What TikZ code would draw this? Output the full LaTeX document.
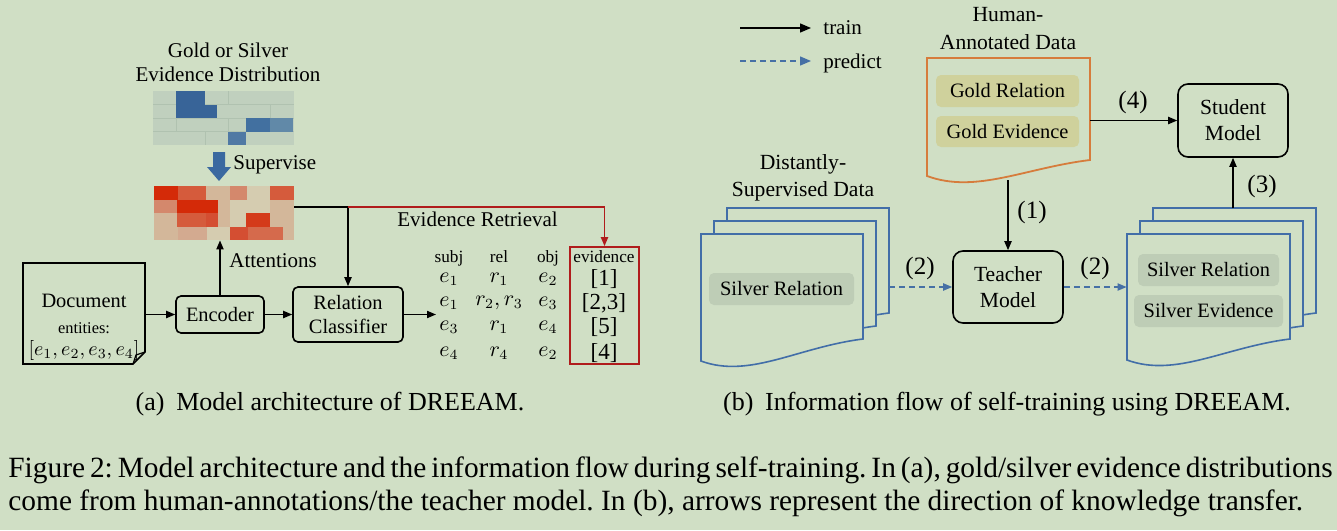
\documentclass[tikz,border=0pt]{standalone}
\usepackage{fontspec}
\setmainfont{Liberation Serif}
\usetikzlibrary{arrows.meta}
\frenchspacing

\definecolor{bggreen}{RGB}{208,223,197}
\definecolor{predblue}{RGB}{70,112,165}
\definecolor{docblue}{RGB}{66,110,168}
\definecolor{docorange}{RGB}{214,124,60}
\definecolor{retred}{RGB}{176,28,28}
\definecolor{goldfill}{RGB}{207,209,156}
\definecolor{silverfill}{RGB}{190,205,182}
\definecolor{cellbase}{RGB}{192,208,190}
\definecolor{cellline}{RGB}{176,194,176}
\definecolor{supblue}{RGB}{58,105,160}
\definecolor{hmblue}{RGB}{56,100,152}
\definecolor{hmblueb}{RGB}{66,112,160}
\definecolor{hmbluec}{RGB}{97,137,168}
\definecolor{hmblued}{RGB}{80,121,164}
\definecolor{hmred}{RGB}{212,42,8}
\definecolor{hmmed}{RGB}{213,91,60}
\definecolor{hmsalmon}{RGB}{212,136,108}
\definecolor{hmtan}{RGB}{211,183,154}
\definecolor{hmpale}{RGB}{213,204,176}
\definecolor{hmdeep}{RGB}{212,58,26}
\definecolor{hmpink}{RGB}{211,170,144}
\definecolor{hmmid}{RGB}{212,78,50}
\definecolor{hmrust}{RGB}{213,106,76}

% document with wavy bottom: style, left, top, right, bottom left, bottom right
\newcommand{\wavydoc}[6]{%
  \draw[#1] (#2,#5) -- (#2,#3) -- (#4,#3) -- (#4,#6)
    .. controls ({#2+0.6*(#4-#2)},{#6+8}) and ({#2+0.3*(#4-#2)},{#5+18}) .. (#2,#5) -- cycle;}

\begin{document}
\begin{tikzpicture}[x=0.5pt,y=-0.5pt,
    lbl/.style={font=\fontsize{10.5}{12}\selectfont, inner sep=0pt},
    small/.style={font=\fontsize{8.6}{10}\selectfont, inner sep=0pt},
    box/.style={draw, line width=0.8pt, rounded corners=2.5pt, inner sep=0pt,
      font=\fontsize{10.2}{12}\selectfont, align=center},
    mbox/.style={draw, line width=0.8pt, rounded corners=5pt, inner sep=0pt,
      font=\fontsize{10.8}{13}\selectfont, align=center},
    tag/.style={rounded corners=2.5pt, inner sep=0pt, font=\fontsize{10.2}{12}\selectfont},
    arr/.style={line width=0.7pt, -{Triangle[length=4.5pt,width=3.6pt]}},
    parr/.style={arr, draw=predblue, dash pattern=on 3pt off 2pt},
    num/.style={font=\fontsize{12.5}{14}\selectfont, inner sep=0pt},
    bluedoc/.style={draw=docblue, line width=0.8pt, fill=bggreen},
  ]
  \fill[bggreen] (0,0) rectangle (1337,530);
  \useasboundingbox (0,0) rectangle (1337,530);

  % ---------- (a) model architecture ----------
  \node[lbl, align=center] (disttitle) at (228,62) {Gold or Silver\\Evidence Distribution};

  % evidence distribution
  \fill[cellbase] (153,91) rectangle (294,145);
  \foreach \y in {104.5,118,131.5}
    \draw[cellline, line width=0.4pt] (153,\y) -- (294,\y);
  \draw[cellline, line width=0.4pt] (176,91) -- (176,131.5) (228,91) -- (228,104.5)
    (270,104.5) -- (270,118) (205,131.5) -- (205,145) (228,118) -- (228,131.5);
  \foreach \xa/\xb/\ya/\c in {176/205/91/hmblue, 176/217/104.5/hmblue,
      246/270/118/hmblueb, 270/293/118/hmbluec, 228/246/131.5/hmblued}
    \fill[\c] (\xa,\ya) rectangle (\xb,{\ya+13.5});

  \fill[supblue] (213,152) -- (225,152) -- (225,167) -- (231,167) -- (219,181)
    -- (207,167) -- (213,167) -- cycle;
  \node[lbl, anchor=west] (supv) at (233,165) {Supervise};

  % attentions
  \foreach \xa/\xb/\ya/\c in {154/178/186/hmred, 178/206/186/hmmed, 206/230/186/hmtan,
      230/247/186/hmsalmon, 247/270/186/hmpale, 270/294/186/hmmed,
      154/177/199.5/hmsalmon, 177/218/199.5/hmred, 218/230/199.5/hmtan,
      230/270/199.5/hmpale, 270/294/199.5/hmtan,
      154/177/213/hmtan, 177/206/213/hmmed, 206/218/213/hmmid, 218/230/213/hmtan,
      230/246/213/hmpale, 246/270/213/hmdeep, 270/294/213/hmtan,
      154/178/226.5/hmtan, 178/207/226.5/hmpink, 207/230/226.5/hmpale,
      230/248/226.5/hmmid, 248/283/226.5/hmrust, 283/294/226.5/hmtan}
    \fill[\c] (\xa,\ya) rectangle (\xb,{\ya+13.5});
  \node[minimum width=70pt, minimum height=27pt, inner sep=0pt] (attn) at (224,213) {};

  % document
  \node[minimum width=61pt, minimum height=50.5pt, inner sep=0pt] (doc) at (84,313.5) {};
  \draw[line width=0.8pt] (23,263) -- (145,263) -- (145,352) -- (133,364) -- (23,364) -- cycle;
  \draw[line width=0.6pt] (145,352) -- (136,355) -- (133,364);
  \node[font=\fontsize{10.2}{12}\selectfont, inner sep=0pt] (doct) at (84,301) {Document};
  \node[small, font=\fontsize{8.2}{10}\selectfont] (ent) at (84,328) {entities:};
  \node[font=\fontsize{10.2}{12}\selectfont, inner sep=0pt] (entl) at (84,350) {$[e_1,e_2,e_3,e_4]$};

  \node[box, minimum width=44pt, minimum height=18.5pt] (enc) at (220,314.5) {Encoder};
  \node[box, minimum width=55pt, minimum height=27.5pt] (rc) at (348,314.5) {Relation\\Classifier};

  \draw[arr] (doc.east |- enc.west) -- (enc.west);
  \draw[arr] (enc) -- (rc);
  \draw[arr] (enc.north) -- (enc.north |- attn.south);
  \node[lbl, anchor=west] (attl) at (229,261) {Attentions};

  \coordinate (split) at (348,207);
  \draw[line width=0.8pt] (attn.east |- split) -- (split);
  \draw[arr] (split) -- (rc.north);
  \node[draw=retred, line width=0.9pt, minimum width=34.5pt, minimum height=58.5pt,
    inner sep=0pt] (evid) at (604.5,305.5) {};
  \draw[retred, line width=0.8pt, -{Triangle[length=4.5pt,width=3.6pt]}] (split) -| (evid.north);
  \node[lbl, anchor=west] (retl) at (397,219) {Evidence Retrieval};

  \coordinate (tbl) at (436,314.5);
  \draw[arr] (rc.east) -- (tbl);

  % relation table
  \foreach \x/\t in {449/subj, 499/rel, 548/obj, 604/evidence}
    \node[small, anchor=base] (hd\t) at (\x,262) {\t};
  \foreach \y/\s/\r/\o/\e in {279/e_1/r_1/e_2/{[1]}, 303/e_1/{r_2,r_3}/e_3/{[2,3]},
      327/e_3/r_1/e_4/{[5]}, 353/e_4/r_4/e_2/{[4]}} {
    \node[lbl] (s\y) at (449,\y) {$\s$};
    \node[lbl] (r\y) at (499,\y) {$\r$};
    \node[lbl] (o\y) at (548,\y) {$\o$};
    \node[lbl, font=\fontsize{11.5}{13}\selectfont] (ev\y) at (604,\y) {\e};
  }

  \node[font=\fontsize{13}{15}\selectfont, inner sep=0pt] (capa) at (330,404)
    {(a)\hspace{0.45em}Model architecture of DREEAM.};

  % ---------- (b) self-training ----------
  \coordinate (trainA) at (740,28);
  \coordinate (trainB) at (811,28);
  \draw[line width=0.7pt, -{Triangle[length=5.5pt,width=4.5pt]}] (trainA) -- (trainB);
  \node[lbl, anchor=base west] (trainl) at (823,34) {train};
  \coordinate (predA) at (740,61);
  \coordinate (predB) at (811,61);
  \draw[parr, -{Triangle[length=5.5pt,width=4.5pt]}] (predA) -- (predB);
  \node[lbl, anchor=base west] (predl) at (823,68) {predict};

  % human-annotated data
  \node[lbl, align=center, font=\fontsize{10.8}{14}\selectfont] (humt) at (1008,29)
    {Human-\\Annotated Data};
  \wavydoc{draw=docorange, line width=0.9pt}{927}{58}{1090}{176}{160}
  \node[minimum width=81.5pt, minimum height=59pt, inner sep=0pt] (hum) at (1008.5,117) {};
  \node[tag, fill=goldfill, minimum width=71.5pt, minimum height=16pt] (gr) at (1007.5,91) {Gold Relation};
  \node[tag, fill=goldfill, minimum width=71.5pt, minimum height=15.5pt] (ge) at (1007.5,131.5) {Gold Evidence};

  \node[mbox, minimum width=55pt, minimum height=36.5pt] (stu) at (1233,120.5) {Student\\Model};
  \node[mbox, minimum width=55pt, minimum height=36pt] (tea) at (1008,287) {Teacher\\Model};

  \draw[arr] (hum.east |- stu.west) -- (stu.west);
  \node[num] (n4) at (1133,102) {(4)};
  \coordinate (humb) at (1008,180);
  \draw[arr] (humb) -- (tea.north);
  \node[num] (n1) at (1032,212) {(1)};

  % silver data from the teacher
  \wavydoc{bluedoc}{1153}{208}{1316}{334}{313}
  \wavydoc{bluedoc}{1140}{221}{1303}{347}{326}
  \wavydoc{bluedoc}{1127}{234}{1290}{360}{339}
  \node[minimum width=81.5pt, minimum height=63pt, inner sep=0pt] (silv) at (1208.5,297) {};
  \node[tag, fill=silverfill, minimum width=70.5pt, minimum height=16pt] (srr) at (1208.5,270) {Silver Relation};
  \node[tag, fill=silverfill, minimum width=74.5pt, minimum height=16pt] (ser) at (1208.5,311) {Silver Evidence};
  \coordinate (silvtop) at (1233,208);
  \draw[arr] (silvtop) -- (stu.south);
  \node[num] (n3) at (1262,186) {(3)};
  \draw[parr] (tea.east) -- (tea.east -| silv.west);
  \node[num] (n2b) at (1095,268) {(2)};

  % distantly-supervised data
  \node[lbl, align=center, font=\fontsize{10.8}{13.5}\selectfont] (dstt) at (803,177.5)
    {Distantly-\\Supervised Data};
  \wavydoc{bluedoc}{727}{208}{889}{334}{313}
  \wavydoc{bluedoc}{714}{221}{876}{347}{326}
  \wavydoc{bluedoc}{701}{234}{863}{361}{339}
  \node[tag, fill=silverfill, minimum width=72.5pt, minimum height=16pt] (srl) at (781.5,289) {Silver Relation};
  \coordinate (distr) at (889,287);
  \draw[parr] (distr) -- (tea.west);
  \node[num] (n2a) at (920,268) {(2)};

  \node[font=\fontsize{13}{15}\selectfont, inner sep=0pt] (capb) at (1007,404)
    {(b)\hspace{0.45em}Information flow of self-training using DREEAM.};

  % ---------- figure caption ----------
  \node[font=\fontsize{14.7}{16}\selectfont, inner sep=0pt, anchor=west] (fig1) at (8,470)
    {\makebox[661pt][s]{Figure 2: Model architecture and the information flow during self-training. In (a), gold/silver evidence distributions}};
  \node[font=\fontsize{14.7}{16}\selectfont, inner sep=0pt, anchor=west] (fig2) at (8,503)
    {come from human-annotations/the teacher model. In (b), arrows represent the direction of knowledge transfer.};
\end{tikzpicture}
\end{document}
